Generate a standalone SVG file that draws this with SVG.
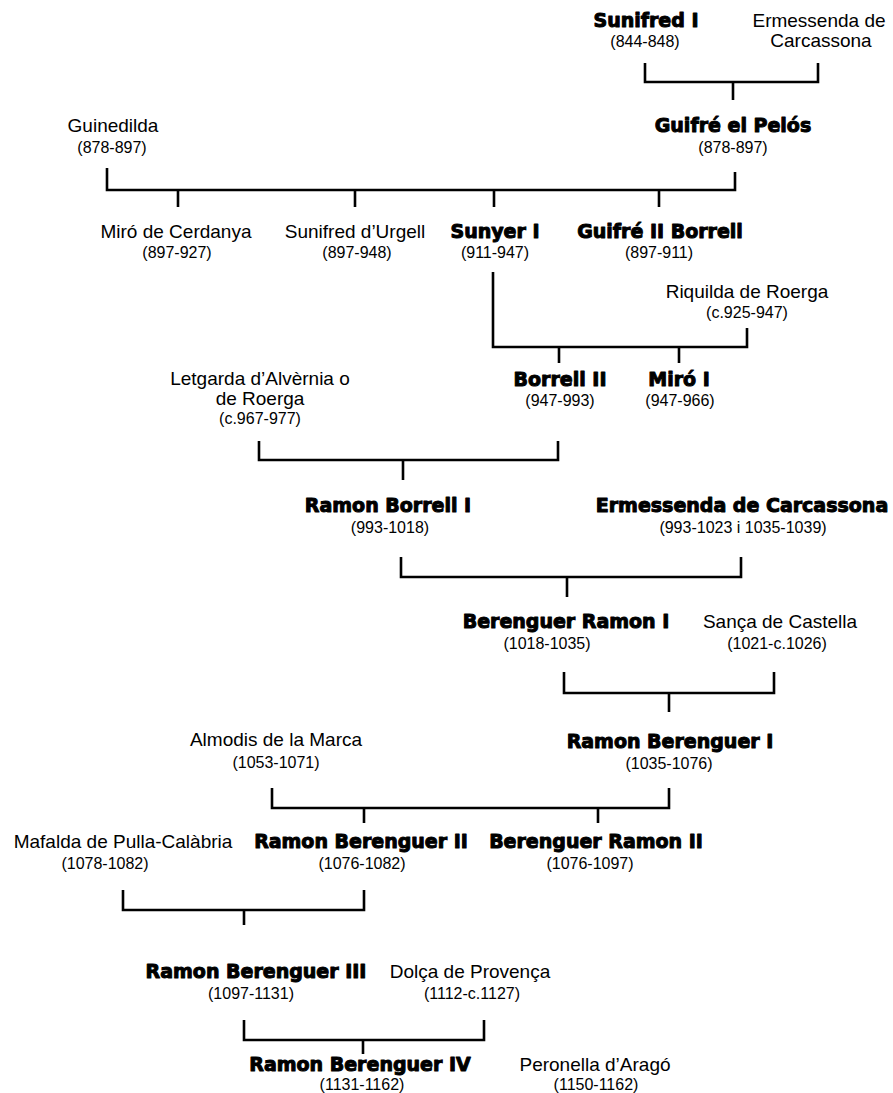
<svg xmlns="http://www.w3.org/2000/svg" width="893" height="1093" viewBox="0 0 893 1093">
<style>
text{fill:#000;text-anchor:middle}
.n{font-family:"Liberation Sans",Arial,sans-serif;font-size:19px}
.b{font-family:"DejaVu Sans",sans-serif;font-weight:bold;font-size:19px;stroke:#000;stroke-width:1;stroke-linejoin:round}
.d{font-family:"Liberation Sans",Arial,sans-serif;font-size:16px}
.ln{fill:none;stroke:#000;stroke-width:2.6;stroke-linejoin:miter;stroke-linecap:butt}
</style>
<rect width="893" height="1093" fill="#fff"/>
<g id="connectors" class="ln">
<path d="M645,63V82H818V63M733,82V100"/>
<path d="M107,168V190H735V172M178,190V207M355,190V207M494,190V207M659,190V207"/>
<path d="M493,272V347H747V328M559,347V363M679,347V363"/>
<path d="M259,441V460H558V441M403,460V480"/>
<path d="M401,557V577H741V557M567,577V597"/>
<path d="M564,672V693H774V672M669,693V712"/>
<path d="M272,788V808H669V788M364,808V823M598,808V823"/>
<path d="M123,890V910H364V890M244,910V925"/>
<path d="M244,1020V1040H484V1020M363,1040V1054"/>
</g>
<g id="sunifred1"><text class="b" x="646" y="27">Sunifred I</text><text class="d" x="645" y="47">(844-848)</text></g>
<g id="ermessenda1"><text class="n" x="819" y="27">Ermessenda de</text><text class="n" x="821" y="47">Carcassona</text></g>
<g id="guifre-pelos"><text class="b" x="733" y="132">Guifré el Pelós</text><text class="d" x="733" y="153">(878-897)</text></g>
<g id="guinedilda"><text class="n" x="113" y="132">Guinedilda</text><text class="d" x="112" y="153">(878-897)</text></g>
<g id="miro-cerdanya"><text class="n" x="176" y="238">Miró de Cerdanya</text><text class="d" x="177" y="258">(897-927)</text></g>
<g id="sunifred-urgell"><text class="n" x="355" y="238">Sunifred d’Urgell</text><text class="d" x="357" y="258">(897-948)</text></g>
<g id="sunyer1"><text class="b" x="495" y="238">Sunyer I</text><text class="d" x="495" y="258">(911-947)</text></g>
<g id="guifre2"><text class="b" x="660" y="238">Guifré II Borrell</text><text class="d" x="659" y="258">(897-911)</text></g>
<g id="riquilda"><text class="n" x="747" y="298">Riquilda de Roerga</text><text class="d" x="747" y="318">(c.925-947)</text></g>
<g id="borrell2"><text class="b" x="560" y="386">Borrell II</text><text class="d" x="560" y="406">(947-993)</text></g>
<g id="miro1"><text class="b" x="679" y="386">Miró I</text><text class="d" x="680" y="406">(947-966)</text></g>
<g id="letgarda"><text class="n" x="260" y="385">Letgarda d’Alvèrnia o</text><text class="n" x="260" y="405">de Roerga</text><text class="d" x="260" y="424">(c.967-977)</text></g>
<g id="ramon-borrell1"><text class="b" x="388" y="512">Ramon Borrell I</text><text class="d" x="390" y="533">(993-1018)</text></g>
<g id="ermessenda2"><text class="b" x="742" y="512">Ermessenda de Carcassona</text><text class="d" x="743" y="533">(993-1023 i 1035-1039)</text></g>
<g id="berenguer-ramon1"><text class="b" x="566" y="628">Berenguer Ramon I</text><text class="d" x="547" y="649">(1018-1035)</text></g>
<g id="sanca"><text class="n" x="780" y="628">Sança de Castella</text><text class="d" x="777" y="649">(1021-c.1026)</text></g>
<g id="ramon-berenguer1"><text class="b" x="670" y="748">Ramon Berenguer I</text><text class="d" x="669" y="769">(1035-1076)</text></g>
<g id="almodis"><text class="n" x="276" y="746">Almodis de la Marca</text><text class="d" x="276" y="768">(1053-1071)</text></g>
<g id="mafalda"><text class="n" x="123" y="848">Mafalda de Pulla-Calàbria</text><text class="d" x="105" y="869">(1078-1082)</text></g>
<g id="ramon-berenguer2"><text class="b" x="361" y="848">Ramon Berenguer II</text><text class="d" x="362" y="869">(1076-1082)</text></g>
<g id="berenguer-ramon2"><text class="b" x="596" y="848">Berenguer Ramon II</text><text class="d" x="590" y="869">(1076-1097)</text></g>
<g id="ramon-berenguer3"><text class="b" x="256" y="978">Ramon Berenguer III</text><text class="d" x="251" y="999">(1097-1131)</text></g>
<g id="dolca"><text class="n" x="470" y="978">Dolça de Provença</text><text class="d" x="472" y="999">(1112-c.1127)</text></g>
<g id="ramon-berenguer4"><text class="b" x="360" y="1071">Ramon Berenguer IV</text><text class="d" x="362" y="1090">(1131-1162)</text></g>
<g id="peronella"><text class="n" x="595" y="1071">Peronella d’Aragó</text><text class="d" x="596" y="1090">(1150-1162)</text></g>
</svg>
